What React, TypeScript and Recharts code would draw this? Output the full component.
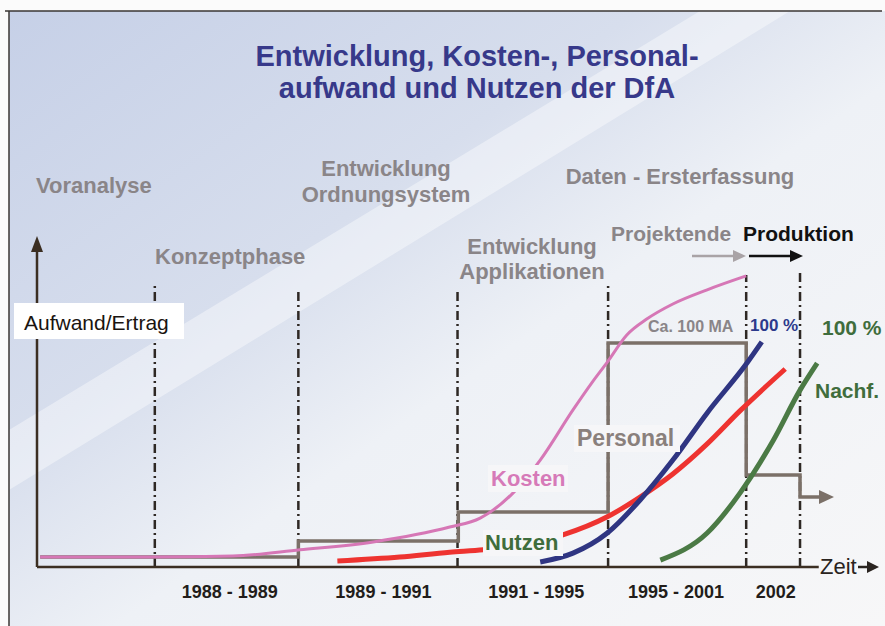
import React from 'react';
import { LineChart, Line, XAxis, YAxis, ReferenceLine } from 'recharts';

// x: position along "Zeit" (0 = y axis, 100 = end of x axis), y: Aufwand/Ertrag 0..100
const phaseBounds = [15.1, 33.5, 53.9, 73.2, 90.9, 97.8];
const phaseTops = [86.1, 83.3, 83.6, 85.5, 88.5, 89.1];
const periodCenters = [24.7, 44.4, 64.0, 81.9, 94.7];
const periodLabels = ['1988 - 1989', '1989 - 1991', '1991 - 1995', '1995 - 2001', '2002'];

const kosten = [
  { x: 0.4, y: 3.0 }, { x: 14.5, y: 3.0 }, { x: 25.1, y: 3.3 }, { x: 33.7, y: 5.2 },
  { x: 43.1, y: 7.6 }, { x: 52.9, y: 12.1 }, { x: 56.8, y: 14.8 }, { x: 61.0, y: 22.4 },
  { x: 64.5, y: 32.4 }, { x: 68.7, y: 47.6 }, { x: 71.2, y: 56.1 }, { x: 73.1, y: 62.1 },
  { x: 75.6, y: 70.3 }, { x: 78.2, y: 75.2 }, { x: 81.5, y: 79.7 }, { x: 85.9, y: 84.0 },
  { x: 90.9, y: 88.2 },
];

// personnel level per phase (step after)
const personal = [
  { x: 0.4, y: 3.0 }, { x: 33.5, y: 7.9 }, { x: 54.0, y: 16.7 }, { x: 73.2, y: 67.9 },
  { x: 90.9, y: 27.9 }, { x: 97.8, y: 21.2 }, { x: 100.4, y: 21.2 },
];

const nutzen = [
  { x: 38.5, y: 1.8 }, { x: 46.5, y: 3.0 }, { x: 52.9, y: 4.5 }, { x: 57.2, y: 5.2 },
  { x: 67.4, y: 9.7 }, { x: 73.1, y: 15.2 }, { x: 77.3, y: 21.2 }, { x: 81.5, y: 28.2 },
  { x: 85.9, y: 37.3 }, { x: 90.1, y: 47.3 }, { x: 95.9, y: 60.0 },
];

const ersterfassung = [
  { x: 64.5, y: 1.5 }, { x: 68.7, y: 4.2 }, { x: 73.1, y: 10.3 }, { x: 77.3, y: 20.3 },
  { x: 81.5, y: 32.4 }, { x: 85.9, y: 46.7 }, { x: 91.0, y: 61.8 }, { x: 92.9, y: 68.2 },
];

const nachf = [
  { x: 79.9, y: 2.1 }, { x: 85.9, y: 10.3 }, { x: 90.1, y: 22.4 }, { x: 94.4, y: 38.5 },
  { x: 97.8, y: 53.6 }, { x: 100.0, y: 61.8 },
];

const FONT = '"Liberation Sans", Arial, sans-serif';
const GRAY = '#8a8588';
const GREEN = '#3f6d3c';

export default function App() {
  const periodOf = (v: number) => periodLabels[periodCenters.indexOf(v)] ?? '';
  return (
    <div style={{ position: 'absolute', left: 0, top: 0, width: 885, height: 626, fontFamily: FONT }}>
      <svg width={885} height={626} style={{ position: 'absolute', left: 0, top: 0 }}>
        <defs>
          <linearGradient id="bg" x1="0" y1="0" x2="1" y2="1">
            <stop offset="0" stopColor="#c6d0e7" />
            <stop offset="0.36" stopColor="#d7deed" />
            <stop offset="0.56" stopColor="#eef1f6" />
            <stop offset="1" stopColor="#f7f7f8" />
          </linearGradient>
        </defs>
        <rect x={0} y={0} width={885} height={626} fill="#fbfbfb" />
        <rect x={9} y={11} width={876} height={615} fill="url(#bg)" />
        <polygon points="9,490 9,430 700,11 790,11" fill="#ffffff" opacity={0.4} />
        <line x1={5} y1={11} x2={882} y2={11} stroke="#3a3633" strokeWidth={1.5} />
        <line x1={9} y1={11} x2={9} y2={626} stroke="#3a3633" strokeWidth={1.5} />
      </svg>

      <div style={{ position: 'absolute', left: 0, top: 0 }}>
        <LineChart width={885} height={626} margin={{ top: 237, right: 21, left: 37, bottom: 0 }}>
          <XAxis
            type="number"
            dataKey="x"
            domain={[0, 106]}
            ticks={periodCenters}
            tickFormatter={periodOf}
            axisLine={false}
            tickLine={false}
            height={59}
            tickMargin={12}
            interval={0}
            tick={{ fill: '#221d1a', fontSize: 18, fontWeight: 'bold', fontFamily: FONT }}
            allowDataOverflow
          />
          <YAxis type="number" dataKey="y" domain={[0, 100]} hide allowDataOverflow />
          {phaseBounds.map((b, i) => (
            <ReferenceLine
              key={b}
              segment={[{ x: b, y: 0 }, { x: b, y: phaseTops[i] }]}
              stroke="#2e2824"
              strokeWidth={2.5}
              strokeDasharray="9 4 2 4"
            />
          ))}
          <ReferenceLine segment={[{ x: 0, y: 0 }, { x: 100.2, y: 0 }]} stroke="#3b2e22" strokeWidth={2.5} />
          <ReferenceLine segment={[{ x: 0, y: 0 }, { x: 0, y: 97 }]} stroke="#3b2e22" strokeWidth={2.5} />
          <Line data={personal} dataKey="y" type="stepAfter" stroke="#7b7068" strokeWidth={3.5} dot={false} isAnimationActive={false} />
          <Line data={kosten} dataKey="y" type="monotone" stroke="#d677b6" strokeWidth={3} dot={false} isAnimationActive={false} />
          <Line data={nutzen} dataKey="y" type="monotone" stroke="#ee3330" strokeWidth={5} dot={false} isAnimationActive={false} />
          <Line data={ersterfassung} dataKey="y" type="monotone" stroke="#2f3582" strokeWidth={5} dot={false} isAnimationActive={false} />
          <Line data={nachf} dataKey="y" type="monotone" stroke="#4b7a45" strokeWidth={5} dot={false} isAnimationActive={false} />
        </LineChart>
      </div>

      <svg width={885} height={626} style={{ position: 'absolute', left: 0, top: 0 }} fontFamily={FONT}>
        <text x={477} y={56} textAnchor="middle" dominantBaseline="central" fill="#37398a" fontSize={29} fontWeight="bold">
          Entwicklung, Kosten-, Personal-
        </text>
        <text x={477} y={88} textAnchor="middle" dominantBaseline="central" fill="#37398a" fontSize={29} fontWeight="bold">
          aufwand und Nutzen der DfA
        </text>

        <g fill={GRAY} fontSize={22} fontWeight="bold" dominantBaseline="central">
          <text x={36} y={185}>Voranalyse</text>
          <text x={386} y={168} textAnchor="middle">Entwicklung</text>
          <text x={386} y={194} textAnchor="middle">Ordnungsystem</text>
          <text x={155} y={256}>Konzeptphase</text>
          <text x={680} y={176} textAnchor="middle">Daten - Ersterfassung</text>
          <text x={532} y={246} textAnchor="middle">Entwicklung</text>
          <text x={532} y={271} textAnchor="middle">Applikationen</text>
          <text x={611} y={233} fontSize={21}>Projektende</text>
        </g>
        <text x={743} y={233} fill="#111" fontSize={21} fontWeight="bold" dominantBaseline="central">Produktion</text>
        <line x1={692} y1={256} x2={735} y2={256} stroke="#a9a3a6" strokeWidth={2.5} />
        <polygon points="733,250 746,256 733,262" fill="#a9a3a6" />
        <line x1={749} y1={256} x2={792} y2={256} stroke="#111" strokeWidth={2.5} />
        <polygon points="790,250 803,256 790,262" fill="#111" />

        {/* y axis arrow and label */}
        <polygon points="37,236 31,252 43,252" fill="#3b2e22" />
        <rect x={14} y={303} width={170} height={36} fill="#ffffff" />
        <text x={24} y={322} fill="#1a1410" fontSize={21} dominantBaseline="central">Aufwand/Ertrag</text>

        {/* x axis label */}
        <text x={820} y={566} fill="#2a2420" fontSize={22} dominantBaseline="central">Zeit</text>
        <line x1={858} y1={567} x2={870} y2={567} stroke="#2a2420" strokeWidth={2.5} />
        <polygon points="867,561 879,567 867,573" fill="#2a2420" />

        {/* personal arrow */}
        <polygon points="819,490 834,497 819,504" fill="#7b7068" />

        {/* series labels */}
        <text x={648} y={326} fill={GRAY} fontSize={16} fontWeight="bold" dominantBaseline="central">Ca. 100 MA</text>
        <text x={750} y={325} fill="#2c3a8c" fontSize={17} fontWeight="bold" dominantBaseline="central">100 %</text>
        <text x={822} y={327} fill={GREEN} fontSize={21} fontWeight="bold" dominantBaseline="central">100 %</text>
        <text x={815} y={390} fill={GREEN} fontSize={21} fontWeight="bold" dominantBaseline="central">Nachf.</text>

        <rect x={574} y={425} width={106} height={27} fill="#f6f6f8" />
        <text x={577} y={438} fill="#8a807c" fontSize={23} fontWeight="bold" dominantBaseline="central">Personal</text>
        <rect x={488} y={465} width={80} height={27} fill="#f6f6f8" />
        <text x={491} y={478} fill="#d67ab8" fontSize={22} fontWeight="bold" dominantBaseline="central">Kosten</text>
        <rect x={483} y={530} width={80} height={26} fill="#f6f6f8" />
        <text x={485} y={542} fill={GREEN} fontSize={22} fontWeight="bold" dominantBaseline="central">Nutzen</text>
      </svg>
    </div>
  );
}
